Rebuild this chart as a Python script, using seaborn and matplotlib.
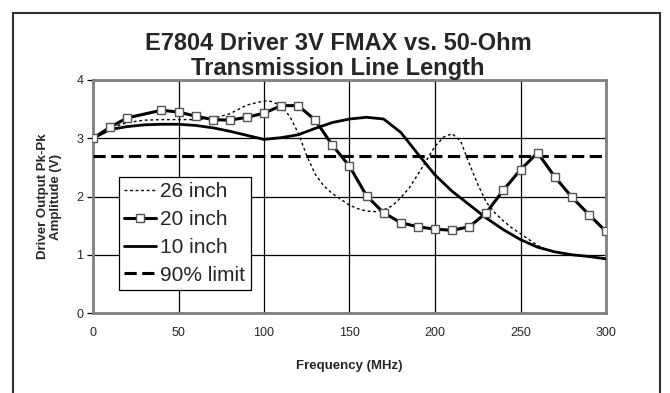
import matplotlib
matplotlib.use("Agg")
import matplotlib.pyplot as plt
import seaborn as sns
import numpy as np
from matplotlib.patches import Rectangle

sns.set_theme(style="white")
plt.rcParams['font.family'] = ['Liberation Sans', 'DejaVu Sans']

# ---- data ----
freq_20 = [0, 10, 20, 40, 50, 60, 70, 80, 90, 100, 110, 120, 130, 140, 150, 160,
           170, 180, 190, 200, 210, 220, 230, 240, 250, 260, 270, 280, 290, 300]
amp_20 = [3.00, 3.19, 3.35, 3.48, 3.45, 3.38, 3.32, 3.31, 3.36, 3.43, 3.56, 3.56, 3.31, 2.88, 2.52, 2.01,
          1.72, 1.55, 1.48, 1.44, 1.42, 1.48, 1.72, 2.11, 2.46, 2.75, 2.34, 1.99, 1.69, 1.40]

freq_10 = [0, 10, 20, 30, 40, 50, 60, 70, 80, 90, 100, 110, 120, 130, 140, 150, 160, 170,
           180, 190, 200, 210, 220, 230, 240, 250, 260, 270, 280, 290, 300]
amp_10 = [3.00, 3.15, 3.20, 3.23, 3.24, 3.24, 3.22, 3.18, 3.12, 3.05, 2.98, 3.01, 3.06, 3.17, 3.27, 3.33, 3.36, 3.33,
          3.10, 2.73, 2.37, 2.09, 1.86, 1.63, 1.43, 1.26, 1.13, 1.05, 1.00, 0.97, 0.93]

freq_26 = [0, 10, 20, 30, 40, 50, 60, 70, 80, 90, 100, 105, 110, 115, 120, 125, 130, 135, 140, 145,
           150, 155, 160, 165, 170, 175, 180, 185, 190, 195, 200, 205, 210, 215, 220, 225, 230, 235,
           240, 245, 250, 255, 260, 265, 270, 280, 290, 300]
amp_26 = [3.00, 3.17, 3.27, 3.31, 3.32, 3.32, 3.32, 3.34, 3.42, 3.57, 3.64, 3.63, 3.55, 3.38, 3.09, 2.70,
          2.38, 2.18, 2.05, 1.95, 1.85, 1.79, 1.75, 1.74, 1.77, 1.84, 1.98, 2.15, 2.38, 2.62, 2.86, 3.02,
          3.08, 2.95, 2.57, 2.21, 1.90, 1.72, 1.58, 1.46, 1.36, 1.26, 1.16, 1.09, 1.05, 1.00, 0.97, 0.93]

limit_freq = [0, 300]
limit_amp = [2.7, 2.7]

x_ticks = [0, 50, 100, 150, 200, 250, 300]
y_ticks = [0, 1, 2, 3, 4]

title = "E7804 Driver 3V FMAX vs. 50-Ohm\nTransmission Line Length"
x_label = "Frequency (MHz)"
y_label = "Driver Output Pk-Pk\nAmplitude (V)"

# ---- figure ----
W, H = 670, 393
fig = plt.figure(figsize=(W / 100, H / 100), dpi=100)
fig.patch.set_facecolor("white")

# outer chart frame
fig.patches.append(Rectangle((13 / W, -0.2), (660 - 13) / W, 1.2 - 13 / H,
                             transform=fig.transFigure, fill=False,
                             edgecolor="#303030", linewidth=1.5, zorder=0))

ax = fig.add_axes([93 / W, (H - 313) / H, (606 - 93) / W, (313 - 80) / H])
ax.set_facecolor("white")

sns.lineplot(x=freq_26, y=amp_26, ax=ax, color="black", linewidth=1.0,
             dashes=False, label="26 inch", zorder=3)
ax.lines[-1].set_linestyle((0, (2, 2)))

sns.lineplot(x=freq_20, y=amp_20, ax=ax, color="black", linewidth=2.2,
             marker="s", markersize=5.5, markerfacecolor="white",
             markeredgecolor="#555555", markeredgewidth=1.0,
             label="20 inch", zorder=5)

sns.lineplot(x=freq_10, y=amp_10, ax=ax, color="black", linewidth=2.0,
             label="10 inch", zorder=4)

sns.lineplot(x=limit_freq, y=limit_amp, ax=ax, color="black", linewidth=2.2,
             label="90% limit", zorder=4)
ax.lines[-1].set_linestyle((0, (4, 1.8)))

ax.set_xlim(0, 300)
ax.set_ylim(0, 4)
ax.set_xticks(x_ticks)
ax.set_yticks(y_ticks)
ax.set_xticklabels([str(t) for t in x_ticks], fontsize=9)
ax.set_yticklabels([str(t) for t in y_ticks], fontsize=9)
ax.grid(True, color="black", linewidth=0.9)
ax.set_axisbelow(True)
ax.tick_params(axis="y", which="both", left=True, length=4, width=0.9,
               color="black", pad=3)
ax.tick_params(axis="x", which="both", bottom=False, pad=4)
for s in ax.spines.values():
    s.set_color("#808080")
    s.set_linewidth(2.0)

ax.set_xlabel(x_label, fontsize=9.5, fontweight="bold", labelpad=15)
ax.set_ylabel(y_label, fontsize=9.5, fontweight="bold", labelpad=10)

fig.text(338 / W, 1 - 56 / H, title, ha="center", va="center",
         fontsize=17, fontweight="bold", linespacing=1.08)

leg = ax.legend(loc="upper left", bbox_to_anchor=(0.05, 0.583), fontsize=15,
                frameon=True, fancybox=False, edgecolor="black", framealpha=1,
                handlelength=1.55, handletextpad=0.2, borderpad=0.25,
                labelspacing=0.42, borderaxespad=0)
leg.get_frame().set_linewidth(0.9)

fig.savefig("out.png", dpi=100)
